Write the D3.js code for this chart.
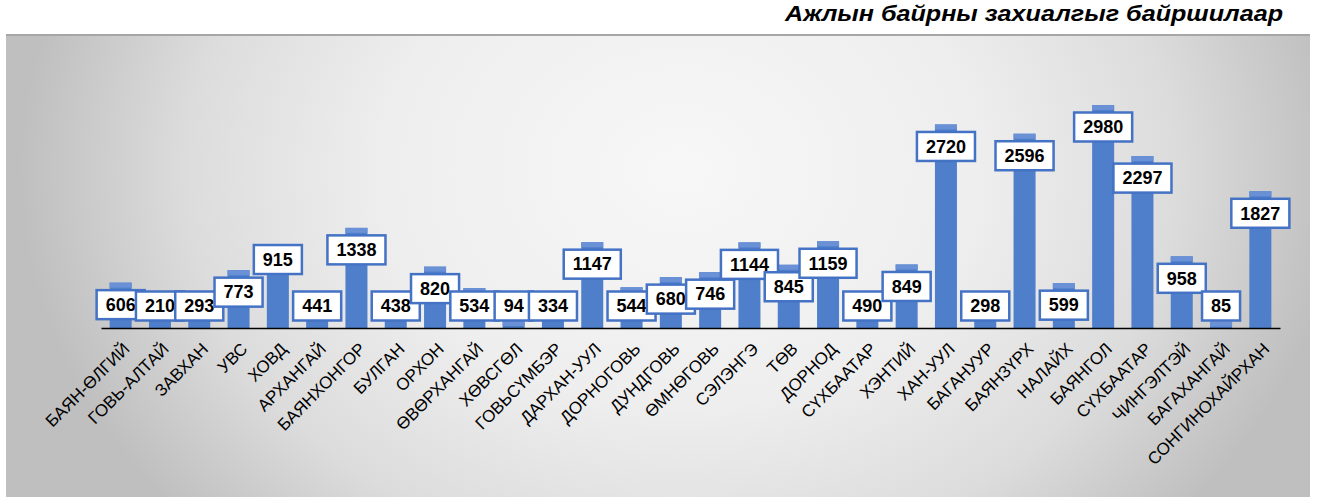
<!DOCTYPE html>
<html>
<head>
<meta charset="utf-8">
<script src="https://cdn.jsdelivr.net/npm/d3@7"></script>
<style>
  body { margin: 0; background: #fff; }
  text { font-family: "Liberation Sans", Arial, sans-serif; }
</style>
</head>
<body>
<div id="chart"></div>
<script>
// Ажлын байрны захиалга, байршлаар
const districts = [
    "БАЯН-ӨЛГИЙ", "ГОВЬ-АЛТАЙ", "ЗАВХАН", "УВС", "ХОВД", "АРХАНГАЙ", "БАЯНХОНГОР",
    "БУЛГАН", "ОРХОН", "ӨВӨРХАНГАЙ", "ХӨВСГӨЛ", "ГОВЬСҮМБЭР", "ДАРХАН-УУЛ", "ДОРНОГОВЬ",
    "ДУНДГОВЬ", "ӨМНӨГОВЬ", "СЭЛЭНГЭ", "ТӨВ", "ДОРНОД", "СҮХБААТАР", "ХЭНТИЙ",
    "ХАН-УУЛ", "БАГАНУУР", "БАЯНЗҮРХ", "НАЛАЙХ", "БАЯНГОЛ", "СҮХБААТАР", "ЧИНГЭЛТЭЙ",
    "БАГАХАНГАЙ", "СОНГИНОХАЙРХАН"
];
const orders = [
    606, 210, 293, 773, 915, 441, 1338, 438, 820, 534, 94, 334, 1147, 544,
    680, 746, 1144, 845, 1159, 490, 849, 2720, 298, 2596, 599, 2980, 2297, 958,
    85, 1827
];
const chartTitle = "Ажлын байрны захиалгыг байршилаар";

const width = 1317;
const height = 497;
const margin = { top: 103.5, right: 37, bottom: 169, left: 101 };

const data = districts.map((d, i) => ({ i: i, name: d, value: orders[i] }));

const svg = d3.select('#chart')
    .append('svg')
    .attr('width', width)
    .attr('height', height);

// background panel with soft radial shading
const defs = svg.append('defs');
const bg = defs.append('radialGradient')
    .attr('id', 'bgGrad')
    .attr('gradientUnits', 'userSpaceOnUse')
    .attr('cx', 680).attr('cy', 170).attr('r', 660)
    .attr('gradientTransform', 'translate(680,170) scale(1,0.8) translate(-680,-170)');
bg.append('stop').attr('offset', '0%').attr('stop-color', '#f7f7f7');
bg.append('stop').attr('offset', '45%').attr('stop-color', '#eeeeee');
bg.append('stop').attr('offset', '75%').attr('stop-color', '#dcdcdc');
bg.append('stop').attr('offset', '100%').attr('stop-color', '#bfbfbf');

svg.append('rect')
    .attr('x', 6).attr('y', 35)
    .attr('width', 1304).attr('height', height - 35)
    .attr('fill', 'url(#bgGrad)');

svg.append('line')
    .attr('x1', 6).attr('x2', 1310)
    .attr('y1', 35).attr('y2', 35)
    .attr('stroke', '#a6a6a6')
    .attr('stroke-width', 2);

svg.append('text')
    .attr('x', 1283)
    .attr('y', 21)
    .attr('text-anchor', 'end')
    .attr('textLength', 498)
    .attr('lengthAdjust', 'spacingAndGlyphs')
    .style('font-size', '22px')
    .style('font-weight', 'bold')
    .style('font-style', 'italic')
    .text(chartTitle);

const baseY = height - margin.bottom;

const xScale = d3.scaleBand()
    .domain(data.map(d => d.i))
    .range([margin.left, width - margin.right])
    .paddingInner(0.44)
    .paddingOuter(0.22);

const yScale = d3.scaleLinear()
    .domain([0, 3000])
    .range([baseY, margin.top]);

// bars
svg.selectAll('.bar')
    .data(data)
    .enter().append('rect')
    .attr('class', 'bar')
    .attr('x', d => xScale(d.i))
    .attr('y', d => yScale(d.value))
    .attr('width', xScale.bandwidth())
    .attr('height', d => baseY - yScale(d.value))
    .attr('fill', '#4f7fcb');

// light cap on the top of each bar
svg.selectAll('.cap')
    .data(data)
    .enter().append('rect')
    .attr('class', 'cap')
    .attr('x', d => xScale(d.i))
    .attr('y', d => yScale(d.value))
    .attr('width', xScale.bandwidth())
    .attr('height', d => Math.min(5, baseY - yScale(d.value)))
    .attr('fill', '#6a91d6');

// x axis
const xAxis = svg.append('g')
    .attr('transform', `translate(0,${baseY})`)
    .call(d3.axisBottom(xScale).tickSize(0).tickFormat(i => districts[i]));

xAxis.select('.domain')
    .attr('stroke', '#000')
    .attr('stroke-width', 1.5);

xAxis.selectAll('text')
    .attr('fill', '#000')
    .style('font-size', '17px')
    .style('font-family', '"Liberation Sans", Arial, sans-serif')
    .attr('text-anchor', 'end')
    .attr('dy', null)
    .attr('y', 0)
    .attr('transform', 'translate(10,22) rotate(-45)');

// value labels in boxed callouts; the ХОВД label sits higher in the original
const raisedLabels = ["ХОВД"];
const labelY = d => raisedLabels.includes(d.name)
    ? yScale(d.value)
    : Math.min(yScale(d.value) + 22, baseY - 22);

const labels = svg.selectAll('.vlabel')
    .data(data)
    .enter().append('g')
    .attr('class', 'vlabel')
    .attr('transform', d => `translate(${xScale(d.i) + xScale.bandwidth() / 2},${labelY(d)})`);

labels.append('rect')
    .attr('fill', '#fff')
    .attr('stroke', '#4472c4')
    .attr('stroke-width', 2.5);

labels.append('text')
    .attr('text-anchor', 'middle')
    .attr('dy', '0.35em')
    .style('font-size', '18px')
    .style('font-weight', 'bold')
    .attr('fill', '#000')
    .text(d => d.value);

labels.each(function () {
    const g = d3.select(this);
    const w = g.select('text').node().getComputedTextLength();
    g.select('rect')
        .attr('x', -w / 2 - 9)
        .attr('y', -14.5)
        .attr('width', w + 18)
        .attr('height', 29);
});
</script>
</body>
</html>
